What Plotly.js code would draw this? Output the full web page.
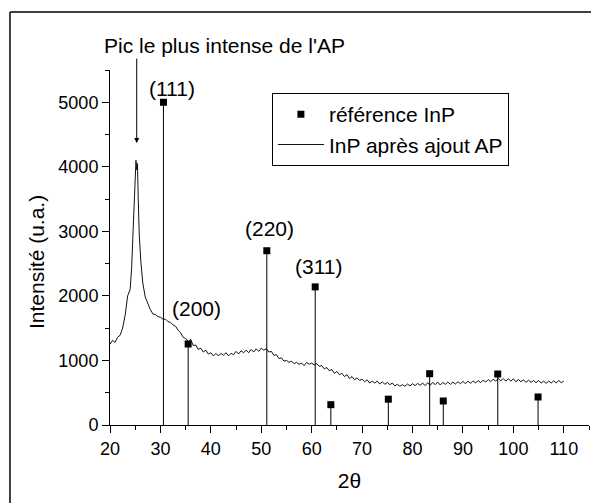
<!DOCTYPE html>
<html>
<head>
<meta charset="utf-8">
<script src="https://cdn.plot.ly/plotly-3.0.1.min.js"></script>
<style>
html,body{margin:0;padding:0;background:#fff;}
#chart{width:591px;height:503px;}
</style>
</head>
<body>
<div id="chart"></div>
<script>
// Measured pattern: InP après ajout AP
const twoTheta = [20,20.5,21,21.5,22,22.5,23,23.5,24,
  24.3,24.6,24.8,25.0,25.15,25.3,25.45,25.6,25.8,26.1,26.5,
  27,27.5,28,28.5,29,29.5,30,30.5,31,31.5,32,32.5,33,33.5,34,34.5,
  35,35.5,36,36.5,37,37.5,38,38.5,39,39.5,40,40.5,41,41.5,42,42.5,43,43.5,44,44.5,45,45.5,46,46.5,47,47.5,48,48.5,49,49.5,50,50.5,51,51.5,52,52.5,53,53.5,54,54.5,55,55.5,56,56.5,57,57.5,58,58.5,59,59.5,60,60.5,61,61.5,62,62.5,63,63.5,64,64.5,65,65.5,66,66.5,67,67.5,68,68.5,69,69.5,70,70.5,71,71.5,72,72.5,73,73.5,74,74.5,75,75.5,76,76.5,77,77.5,78,78.5,79,79.5,80,80.5,81,81.5,82,82.5,83,83.5,84,84.5,85,85.5,86,86.5,87,87.5,88,88.5,89,89.5,90,90.5,91,91.5,92,92.5,93,93.5,94,94.5,95,95.5,96,96.5,97,97.5,98,98.5,99,99.5,100,100.5,101,101.5,102,102.5,103,103.5,104,104.5,105,105.5,106,106.5,107,107.5,108,108.5,109,109.5,110];
const intensity = [1250,1310,1280,1360,1390,1500,1700,2000,2100,
  2450,3050,3500,3900,4100,3950,4050,3500,2950,2550,2200,
  1980,1870,1790,1720,1710,1680,1670,1640,1640,1600,1590,1550,1530,1470,1430,1360,
  1340,1290,1330,1230,1240,1170,1190,1130,1160,1100,1120,1070,1110,1070,1110,1080,1120,1070,1110,1090,1140,1100,1150,1120,1160,1120,1170,1130,1180,1140,1190,1160,1180,1130,1140,1080,1090,1030,1040,990,1000,970,990,950,970,940,960,920,970,940,960,930,950,910,920,870,890,840,860,800,830,780,800,750,780,720,750,700,730,690,710,670,700,650,680,650,680,635,670,630,660,625,650,605,630,600,625,600,635,605,640,610,645,615,650,610,655,615,660,625,665,620,660,630,665,630,665,635,670,640,675,640,680,645,685,650,690,655,695,665,705,670,710,680,720,685,720,680,715,680,715,670,705,670,700,660,695,660,690,655,690,650,680,645,680,650,685,650,690,655,680];

// Reference InP lines
const refTwoTheta = [30.6,35.5,51.1,60.7,63.8,75.2,83.4,86.1,96.9,104.9];
const refIntensity = [5000,1255,2700,2140,315,400,795,372,790,434];

// Labels
const hklLabels = ["(111)","(200)","(220)","(311)"];
const hklX = [32.3,37.2,51.6,61.3];
const hklY = [5220,1800,3040,2460];

const FONT = "'Liberation Sans', Arial, sans-serif";

const traces = [
  {
    x: twoTheta, y: intensity, type: 'scatter', mode: 'lines',
    name: 'InP après ajout AP', legendrank: 2,
    line: {color: '#111', width: 1}
  },
  {
    x: refTwoTheta, y: refIntensity, type: 'scatter', mode: 'markers',
    name: 'référence InP', legendrank: 1,
    marker: {symbol: 'square', size: 7, color: '#000'},
    error_y: {type: 'data', symmetric: false, array: refIntensity.map(() => 0),
              arrayminus: refIntensity, width: 0, thickness: 1, color: '#000'},
    cliponaxis: false
  }
];

const annotations = hklLabels.map((t, i) => ({
  x: hklX[i], y: hklY[i], xref: 'x', yref: 'y', text: t, showarrow: false,
  xanchor: 'center', yanchor: 'middle',
  font: {family: FONT, size: 21, color: '#000'}
}));
annotations.push({
  x: 42.8, y: 1.07, xref: 'x', yref: 'paper', text: "Pic le plus intense de l'AP",
  xanchor: 'center', yanchor: 'middle',
  showarrow: false, font: {family: FONT, size: 21, color: '#000'}
});
annotations.push({
  x: 25.3, y: 4370, ax: 25.3, ay: 5700, xref: 'x', yref: 'y', axref: 'x', ayref: 'y',
  text: '', showarrow: true, arrowhead: 2, arrowsize: 1, arrowwidth: 1, arrowcolor: '#000'
});
annotations.push({
  x: -0.1545, y: 0.459, xref: 'paper', yref: 'paper', text: 'Intensité (u.a.)',
  xanchor: 'center', yanchor: 'middle',
  textangle: -90, showarrow: false, font: {family: FONT, size: 21, color: '#000'}
});

const layout = {
  width: 591, height: 503,
  margin: {l: 110, r: 2, t: 70, b: 78},
  paper_bgcolor: '#fff', plot_bgcolor: '#fff',
  font: {family: FONT, color: '#000'},
  showlegend: true,
  legend: {
    x: 0.338, y: 0.935, xanchor: 'left', yanchor: 'top',
    bordercolor: '#000', borderwidth: 1, bgcolor: 'rgba(0,0,0,0)',
    font: {family: FONT, size: 21, color: '#000'},
    tracegroupgap: 0, itemwidth: 46
  },
  xaxis: {
    range: [20, 115], tickmode: 'array', tickvals: [20,30,40,50,60,70,80,90,100,110],
    showline: true, linecolor: '#000', linewidth: 1, showgrid: false, zeroline: false,
    ticks: 'outside', ticklen: 7, tickcolor: '#000', tickwidth: 1,
    minor: {dtick: 5, tick0: 20, ticks: 'outside', ticklen: 4, tickcolor: '#000', showgrid: false},
    tickfont: {family: FONT, size: 18, color: '#000'},
    title: {text: '2θ', font: {family: FONT, size: 21, color: '#000'}, standoff: 15},
    automargin: false
  },
  yaxis: {
    range: [0, 5500], tickmode: 'array', tickvals: [0,1000,2000,3000,4000,5000],
    showline: true, linecolor: '#000', linewidth: 1, showgrid: false, zeroline: false,
    ticks: 'outside', ticklen: 7, tickcolor: '#000', tickwidth: 1,
    minor: {dtick: 500, tick0: 0, ticks: 'outside', ticklen: 4, tickcolor: '#000', showgrid: false},
    tickfont: {family: FONT, size: 18, color: '#000'},
    automargin: false
  },
  annotations: annotations,
  shapes: [
    {type: 'line', xref: 'paper', yref: 'paper', x0: -0.2088, x1: -0.2088, y0: 1.1634, y1: -0.23,
     line: {color: '#404040', width: 2}},
    {type: 'line', xref: 'paper', yref: 'paper', x0: -0.2088, x1: 1.01, y0: 1.1634, y1: 1.1634,
     line: {color: '#404040', width: 2}}
  ]
};

Plotly.newPlot('chart', traces, layout, {displayModeBar: false, staticPlot: true});
</script>
</body>
</html>
